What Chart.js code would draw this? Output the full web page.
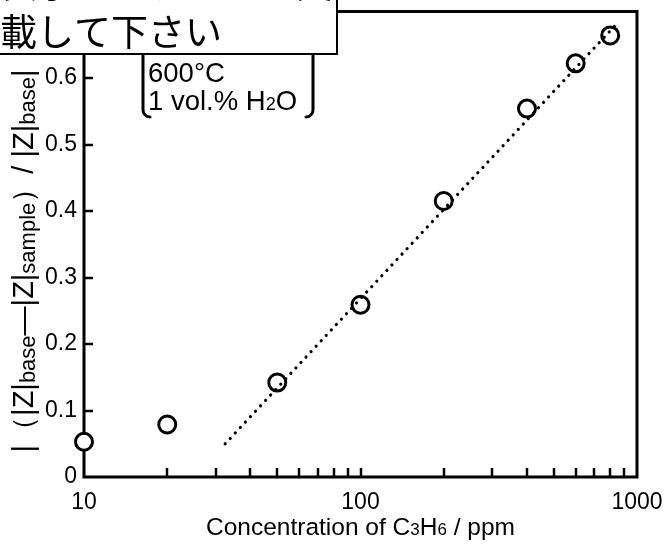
<!DOCTYPE html>
<html><head><meta charset="utf-8">
<script src="https://cdn.jsdelivr.net/npm/chart.js@4"></script>
<style>html,body{margin:0;padding:0;background:#fff;overflow:hidden}#wrap{width:672px;height:544px;position:relative}</style>
</head><body><div id="wrap"><canvas id="c" width="672" height="544"></canvas></div>
<script>
// ---- data ----
const concentrations = [10, 20, 50, 100, 200, 400, 600, 800];
const responses = [0.053, 0.079, 0.142, 0.259, 0.415, 0.554, 0.622, 0.664];
const fitX = [32.4, 847];
const fitY = [0.050, 0.682];
const xTickLabels = [10, 100, 1000];
const xMinorTicks = [20, 30, 40, 50, 60, 70, 80, 90, 200, 300, 400, 500, 600, 700, 800, 900];
const yTicks = [0, 0.1, 0.2, 0.3, 0.4, 0.5, 0.6];
const conditionLine1 = '600°C';
const conditionLine2 = [['1 vol.% H', false], ['2', true], ['O', false]];
const xTitle = [['Concentration of C', false], ['3', true], ['H', false], ['6', true], [' / ppm', false]];
const yTitle = [['|（|Z|', false], ['base', true], ['—|Z|', false], ['sample', true], ['）/ |Z|', false], ['base', true], ['|', false]];
const noteLines = ['表示したデータの実験結果を記', '載して下さい'];

const FONT = '"Liberation Sans", Arial, sans-serif';
const JFONT = '"Noto Sans CJK JP", sans-serif';

function richWidth(ctx, parts, size, subSize) {
  let w = 0;
  for (const [t, sub] of parts) { ctx.font = (sub ? subSize : size) + 'px ' + FONT; w += ctx.measureText(t).width; }
  return w;
}
function drawRich(ctx, parts, x, y, size, subSize, shift) {
  let cx = x;
  for (const [t, sub] of parts) {
    ctx.font = (sub ? subSize : size) + 'px ' + FONT;
    ctx.fillText(t, cx, sub ? y + shift : y);
    cx += ctx.measureText(t).width;
  }
}

const decor = {
  id: 'decor',
  beforeDatasetsDraw(chart) {
    const { ctx, chartArea: a, scales: { x, y } } = chart;
    ctx.save();
    ctx.strokeStyle = '#000';
    ctx.lineWidth = 3;
    ctx.strokeRect(a.left, a.top, a.right - a.left, a.bottom - a.top);
    ctx.lineWidth = 2.5;
    ctx.beginPath();
    for (const v of xTickLabels.concat(xMinorTicks)) {
      const px = Math.round(x.getPixelForValue(v));
      if (px <= a.left + 2 || px >= a.right - 2) continue;
      ctx.moveTo(px, a.bottom); ctx.lineTo(px, a.bottom - 9);
    }
    for (const v of yTicks) {
      const py = Math.round(y.getPixelForValue(v));
      if (py >= a.bottom - 2 || py <= a.top + 2) continue;
      ctx.moveTo(a.left, py); ctx.lineTo(a.left + 9, py);
    }
    ctx.stroke();
    ctx.restore();
  },
  afterDraw(chart) {
    const { ctx, chartArea: a } = chart;
    ctx.save();
    ctx.fillStyle = '#000';
    ctx.textBaseline = 'alphabetic';
    // x title
    const xs = 24.5, xss = 17;
    const xw = richWidth(ctx, xTitle, xs, xss);
    drawRich(ctx, xTitle, (a.left + a.right) / 2 - xw / 2, 535, xs, xss, 0);
    // y title
    ctx.save();
    ctx.translate(33, 261);
    ctx.rotate(-Math.PI / 2);
    const yw = richWidth(ctx, yTitle, 29, 22);
    drawRich(ctx, yTitle, -yw / 2, 0, 29, 22, 2);
    ctx.restore();
    // condition brackets
    ctx.strokeStyle = '#000';
    ctx.lineWidth = 3;
    ctx.lineCap = 'round';
    const bl = 143, br = 313, bt = 44, bb = 117, r = 7;
    ctx.beginPath();
    ctx.moveTo(bl + r, bt); ctx.arcTo(bl, bt, bl, bt + r, r); ctx.lineTo(bl, bb - r); ctx.arcTo(bl, bb, bl + r, bb, r);
    ctx.moveTo(br - r, bt); ctx.arcTo(br, bt, br, bt + r, r); ctx.lineTo(br, bb - r); ctx.arcTo(br, bb, br - r, bb, r);
    ctx.stroke();
    ctx.font = '27.5px ' + FONT;
    ctx.fillText(conditionLine1, 148, 82);
    drawRich(ctx, conditionLine2, 148, 110, 27.5, 18, 0);
    // note box
    ctx.fillStyle = '#fff';
    ctx.fillRect(-5, -5, 342, 59);
    ctx.lineWidth = 2;
    ctx.lineCap = 'butt';
    ctx.strokeRect(-5, -5, 342, 59);
    ctx.save();
    ctx.beginPath(); ctx.rect(0, 0, 336, 53); ctx.clip();
    ctx.fillStyle = '#000';
    ctx.font = '37px ' + JFONT;
    ctx.fillText(noteLines[0], 0, -2);
    ctx.fillText(noteLines[1], 0, 46);
    ctx.restore();
    ctx.restore();
  }
};

new Chart(document.getElementById('c'), {
  type: 'scatter',
  data: {
    datasets: [
      {
        data: concentrations.map((v, i) => ({ x: v, y: responses[i] })),
        pointRadius: 8.5, pointBorderWidth: 3, borderColor: '#000', pointBorderColor: '#000',
        backgroundColor: '#fff', pointBackgroundColor: '#fff', pointStyle: 'circle', clip: false, order: 2
      },
      {
        type: 'line',
        data: fitX.map((v, i) => ({ x: v, y: fitY[i] })),
        borderColor: '#000', borderWidth: 3.2, borderDash: [0.01, 7.4], borderCapStyle: 'round',
        pointRadius: 0, fill: false, tension: 0, clip: false, order: 1
      }
    ]
  },
  options: {
    responsive: false, animation: false, devicePixelRatio: 1,
    layout: { padding: { left: 0, top: 5, right: 35, bottom: 0 } },
    plugins: { legend: { display: false }, tooltip: { enabled: false } },
    scales: {
      x: {
        type: 'logarithmic', min: 10, max: 1000,
        grid: { display: false, drawTicks: false }, border: { display: false },
        afterBuildTicks: s => { s.ticks = xTickLabels.map(v => ({ value: v })); },
        ticks: { autoSkip: false, maxRotation: 0, padding: 12, color: '#000', font: { family: FONT, size: 23 },
          callback: v => String(v) },
        afterFit: s => { s.height = 67; s.paddingLeft = 0; s.paddingRight = 0; }
      },
      y: {
        min: 0, max: 0.7,
        grid: { display: false, drawTicks: false }, border: { display: false },
        afterBuildTicks: s => { s.ticks = yTicks.map(v => ({ value: v })); },
        ticks: { padding: 7, color: '#000', font: { family: FONT, size: 23 },
          callback: v => (v === 0 ? '0' : Number(v).toFixed(1)) },
        afterFit: s => { s.width = 84; s.paddingTop = 0; s.paddingBottom = 0; }
      }
    }
  },
  plugins: [decor]
});
</script></body></html>
